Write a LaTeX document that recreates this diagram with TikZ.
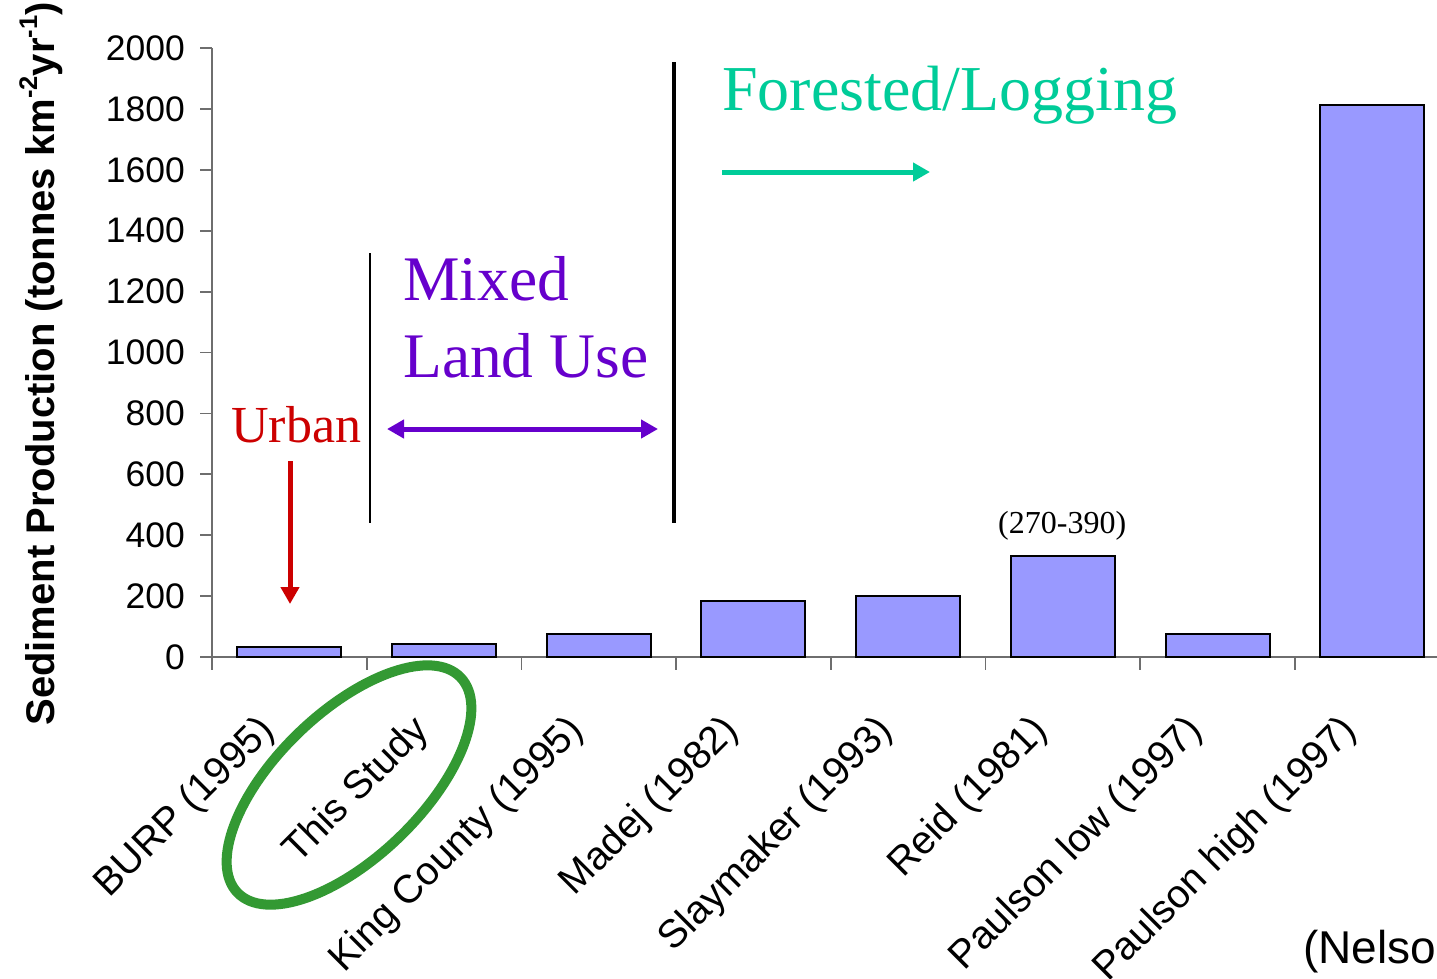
\documentclass[tikz,border=0pt]{standalone}
\usepackage{fontspec}
\setmainfont{Liberation Serif}
\setsansfont{Liberation Sans}
\usetikzlibrary{arrows.meta}
\definecolor{barfill}{HTML}{9999FF}
\definecolor{urbanred}{HTML}{CC0000}
\definecolor{mixpurple}{HTML}{6600CC}
\definecolor{foresttea}{HTML}{00CC99}
\definecolor{ringgreen}{HTML}{339933}
\definecolor{axisgrey}{HTML}{6E6E6E}
\newcommand{\supx}[1]{\raisebox{0.42em}{\fontsize{25.5}{28}\selectfont #1}}
\begin{document}
\begin{tikzpicture}[x=1pt,y=-1pt,
  axisline/.style={draw=axisgrey, line width=1.8pt},
  barbox/.style={fill=barfill, draw=black, line width=2pt},
  ticklab/.style={font=\fontsize{35.5}{42}\selectfont\sffamily, anchor=east, inner sep=0pt},
  catlab/.style={font=\fontsize{39.5}{46}\selectfont\sffamily, anchor=east, rotate=45, inner sep=0pt},
  serifbig/.style={anchor=base west, inner sep=0pt},
  headtip/.tip={Triangle[width=18pt,length=17pt]},
  bigarrow/.style={line width=5pt, -headtip},
  twoarrow/.style={line width=5pt, headtip-headtip},
]
\useasboundingbox (0,0) rectangle (1437,978);
% axes
\draw[axisline] (212,48) -- (212,670);
\draw[axisline] (200,657) -- (1437,657);
\foreach \v in {0,200,...,2000} {
  \draw[axisline] (200,{657-0.3045*\v}) -- (212,{657-0.3045*\v});
  \node[ticklab] (t\v) at (185,{657-0.3045*\v}) {\v};
}
\foreach \k in {1,...,7} {
  \draw[axisline] ({212+154.7*\k},657) -- ({212+154.7*\k},670);
}
% bars and category labels
\foreach \k/\top/\lab in {0/647/BURP (1995), 1/643.5/This Study, 2/633.5/King County (1995), 3/601/Madej (1982), 4/596/Slaymaker (1993), 5/556/Reid (1981), 6/634/Paulson low (1997), 7/105/Paulson high (1997)} {
  \pgfmathsetmacro\cx{212+154.7*(\k+0.5)}
  \draw[barbox] (\cx-52,657) rectangle (\cx+52,\top);
  \node[catlab] (cat\k) at (\cx-21,725) {\lab};
}
% axis title
\node[rotate=90, anchor=base, inner sep=0pt, font=\fontsize{40}{47}\selectfont\sffamily\bfseries] (ylab) at (54,364) {Sediment Production (tonnes km\supx{-2}yr\supx{-1})};
% dividers
\coordinate (d1a) at (370,253); \coordinate (d1b) at (370,523);
\coordinate (d2a) at (674,62); \coordinate (d2b) at (674,523);
\draw[black, line width=2.5pt] (d1a) -- (d1b);
\draw[black, line width=3.5pt] (d2a) -- (d2b);
% group labels
\node[serifbig, text=urbanred, font=\fontsize{52}{60}\selectfont] (urban) at (231,442) {Urban};
\node[serifbig, text=mixpurple, font=\fontsize{63.5}{72}\selectfont] (mixed) at (403,300) {Mixed};
\node[serifbig, text=mixpurple, font=\fontsize{63.5}{72}\selectfont] (landuse) at (403,377) {Land Use};
\node[serifbig, text=foresttea, font=\fontsize{64}{74}\selectfont] (forest) at (722,110) {Forested/Logging};
\node[serifbig, font=\fontsize{32}{38}\selectfont] (range) at (998,533) {(270-390)};
\node[serifbig, font=\fontsize{46}{55}\selectfont\sffamily] (src) at (1303,963) {(Nelso};
% arrows
\coordinate (ua) at (290,461); \coordinate (ub) at (290,604);
\draw[bigarrow, urbanred] (ua) -- (ub);
\coordinate (ma) at (387,429); \coordinate (mb) at (658,429);
\draw[twoarrow, mixpurple] (ma) -- (mb);
\coordinate (fa) at (722,172); \coordinate (fb) at (930,172);
\draw[bigarrow, foresttea] (fa) -- (fb);
% highlight ring
\draw[ringgreen, line width=10pt, rotate around={44:(349,785)}] (349,785) ellipse [x radius=155, y radius=72.5];
\end{tikzpicture}
\end{document}
